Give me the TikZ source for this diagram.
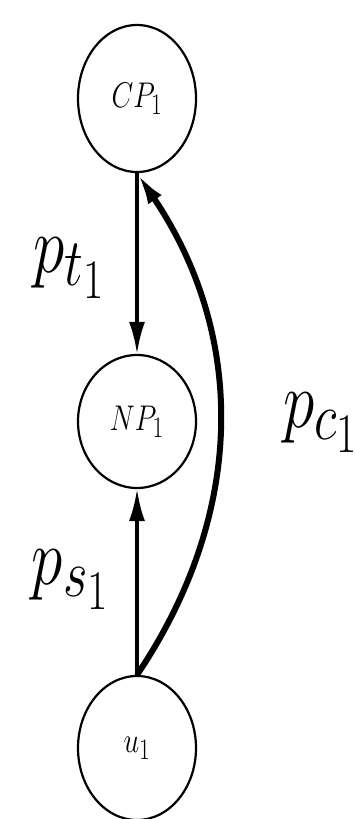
\documentclass[tikz,border=0pt]{standalone}
\usepackage{graphicx}
\usetikzlibrary{shapes.geometric, arrows.meta}
% text is stretched, as the picture is taller than wide
\newcommand{\tall}[2]{\scalebox{#1}[\fpeval{#1*1.27}]{#2}}

\begin{document}
\begin{tikzpicture}[x=1pt, y=1pt,
    state/.style={draw, ellipse, line width=2.2pt, minimum width=118pt, inner sep=0pt, font=\Huge},
    plabel/.style={inner sep=0pt, font=\Huge},
    link/.style={line width=3.4pt, arrows={-Latex[width=16pt, length=32pt]}}]
    \useasboundingbox (0,0) rectangle (355,819);

    \node[state, minimum height=147pt] at (137,720.5) (cp) {\tall{1.13}{$CP_1$}};
    \node[state, minimum height=133pt] at (137,397.5) (np) {\tall{1.13}{$NP_1$}};
    \node[state, minimum height=144pt] at (137,71) (u) {\tall{1.13}{$u_1$}};

    \node[plabel] at (70,551) (pt) {\tall{2.55}{$p_{t_1}$}};
    \node[plabel] at (71,239) (ps) {\tall{2.55}{$p_{s_1}$}};
    \node[plabel, anchor=west] at (283,396) (pc) {\tall{2.55}{$p_{c_1}$}};

    \draw[link] (cp.south) -- (np.north);
    \draw[link] (u.north) -- (np.south);
    \draw[link, line width=6pt] (u.north) to[bend right=34] (cp.south);
\end{tikzpicture}
\end{document}
